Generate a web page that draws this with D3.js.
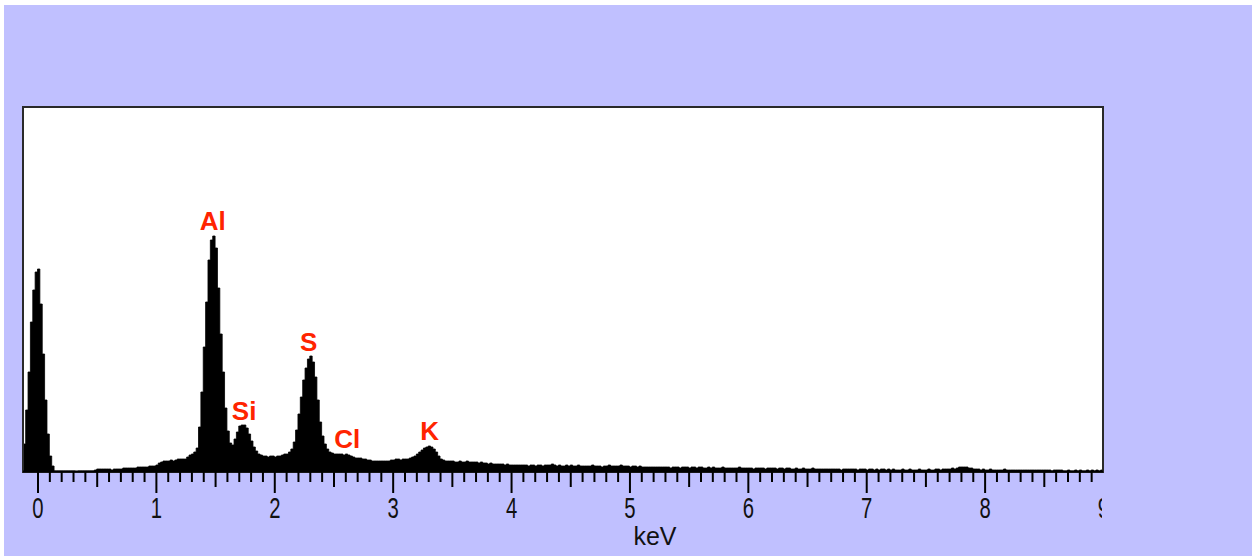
<!DOCTYPE html>
<html>
<head>
<meta charset="utf-8">
<script src="https://cdn.jsdelivr.net/npm/d3@7"></script>
<style>
  html, body { margin: 0; padding: 0; background: #ffffff; }
  svg { display: block; }
</style>
</head>
<body>
<svg id="chart" width="1252" height="556"></svg>
<script>
// ---- DATA ----
// Spectrum channels: 0.02 keV wide, first channel starts at -0.12 keV
const channelStart = -0.12;
const channelWidth = 0.02;
const counts = [
  28,62,100,150,182,200,203,168,118,72,
  38,16,6,1,1,1,1,1,1,1,
  1,1,0,1,1,1,1,1,1,1,
  2,3,3,3,3,3,3,2,3,3,
  3,3,4,4,4,4,4,4,5,5,
  5,5,5,6,6,6,7,9,10,11,
  11,11,12,11,12,13,13,13,13,15,
  17,18,20,24,45,80,125,170,212,232,
  236,224,184,138,100,64,41,29,27,33,
  40,46,47,47,44,38,31,25,21,18,
  17,16,16,15,16,16,15,16,16,17,
  18,18,20,23,30,42,58,75,92,104,
  113,116,110,95,72,50,36,28,23,20,
  19,18,18,18,18,17,18,17,16,15,
  14,14,14,13,13,12,12,11,11,11,
  11,11,11,11,11,12,12,13,13,12,
  13,13,13,14,15,16,18,20,22,24,
  25,26,25,23,20,16,13,12,11,11,
  11,11,10,10,11,10,10,11,10,10,
  10,10,9,10,9,9,8,9,8,8,
  8,8,8,7,8,7,7,7,7,7,
  7,7,7,6,7,7,6,7,7,6,
  7,7,7,8,7,6,7,6,6,7,
  6,7,6,6,7,6,6,6,6,6,
  7,6,6,6,5,6,6,7,6,6,
  6,6,7,6,6,6,5,6,6,5,
  6,5,5,5,5,5,5,5,5,5,
  5,5,5,4,5,5,5,4,5,5,
  5,4,5,5,4,5,5,4,4,5,
  4,5,4,4,4,5,4,4,4,4,
  4,4,5,4,4,4,4,4,3,4,
  4,4,4,3,4,4,4,4,3,4,
  4,3,4,4,3,3,4,3,3,4,
  3,3,3,4,3,3,3,3,3,3,
  3,3,3,3,3,2,3,3,3,3,
  3,3,2,3,3,3,2,3,3,2,
  3,2,3,3,2,3,2,3,2,2,
  2,3,2,2,3,2,2,2,3,2,
  2,2,3,2,2,3,3,2,3,3,
  3,3,4,3,4,5,5,5,5,4,
  4,3,3,3,2,3,2,2,3,2,
  2,2,2,2,3,2,2,2,2,2,
  2,2,2,2,2,2,2,2,2,2,
  2,2,2,2,1,2,2,2,2,1,
  1,2,1,1,2,1,2,1,1,2,
  1,2,1,2,1,2
];

// Element peak labels
const elementNames = ["Al", "Si", "S", "Cl", "K"];
const elementEnergies = [1.48, 1.745, 2.29, 2.617, 3.312];
const elementLabelCounts = [242, 52, 121, 24, 32];

// Axis ticks
const majorTicks = [0, 1, 2, 3, 4, 5, 6, 7, 8, 9];
const halfTicks = [0.5, 1.5, 2.5, 3.5, 4.5, 5.5, 6.5, 7.5, 8.5];
const minorTicks = [0.1,0.2,0.3,0.4,0.6,0.7,0.8,0.9,
  1.1,1.2,1.3,1.4,1.6,1.7,1.8,1.9,2.1,2.2,2.3,2.4,2.6,2.7,2.8,2.9,
  3.1,3.2,3.3,3.4,3.6,3.7,3.8,3.9,4.1,4.2,4.3,4.4,4.6,4.7,4.8,4.9,
  5.1,5.2,5.3,5.4,5.6,5.7,5.8,5.9,6.1,6.2,6.3,6.4,6.6,6.7,6.8,6.9,
  7.1,7.2,7.3,7.4,7.6,7.7,7.8,7.9,8.1,8.2,8.3,8.4,8.6,8.7,8.8,8.9];
const xTitle = "keV";

// ---- LAYOUT ----
const svg = d3.select("#chart");
const W = 1252, H = 556;
const plot = { left: 23, top: 107, right: 1103, bottom: 472 };

svg.append("rect").attr("x", 0).attr("y", 0).attr("width", W).attr("height", H).attr("fill", "#ffffff");
svg.append("rect").attr("x", 4).attr("y", 5).attr("width", W - 4).attr("height", H - 5).attr("fill", "#c0c0ff");

const x = d3.scaleLinear().domain([-0.1225, 9.0]).range([plot.left, plot.right]);
const y = d3.scaleLinear().domain([0, 365]).range([plot.bottom, plot.top]);

const defs = svg.append("defs");
defs.append("clipPath").attr("id", "plotClip")
  .append("rect").attr("x", plot.left).attr("y", plot.top)
  .attr("width", plot.right - plot.left).attr("height", plot.bottom - plot.top);
defs.append("clipPath").attr("id", "labelClip")
  .append("rect").attr("x", 0).attr("y", 0).attr("width", 1102).attr("height", H);

// plot background
svg.append("rect")
  .attr("x", plot.left).attr("y", plot.top)
  .attr("width", plot.right - plot.left).attr("height", plot.bottom - plot.top)
  .attr("fill", "#ffffff");

// spectrum
const pts = counts.map((c, i) => ({ e: channelStart + i * channelWidth, c: c }));
pts.push({ e: channelStart + counts.length * channelWidth, c: counts[counts.length - 1] });
const area = d3.area()
  .x(d => x(d.e))
  .y0(y(0))
  .y1(d => y(d.c))
  .curve(d3.curveStepAfter);
svg.append("path")
  .datum(pts)
  .attr("clip-path", "url(#plotClip)")
  .attr("d", area)
  .attr("fill", "#000000")
  .attr("stroke", "#000000")
  .attr("stroke-width", 0.8);

// frame
svg.append("rect")
  .attr("x", plot.left).attr("y", plot.top)
  .attr("width", plot.right - plot.left).attr("height", plot.bottom - plot.top)
  .attr("fill", "none").attr("stroke", "#2a2a2a").attr("stroke-width", 2);
svg.append("line")
  .attr("x1", plot.left).attr("x2", plot.right)
  .attr("y1", plot.bottom - 0.5).attr("y2", plot.bottom - 0.5)
  .attr("stroke", "#000").attr("stroke-width", 2);

// axes
function tickAxis(values, size, labels) {
  const ax = d3.axisBottom(x).tickValues(values).tickSize(size).tickSizeOuter(0)
    .tickFormat(labels ? d3.format("d") : () => "");
  const g = svg.append("g")
    .attr("transform", `translate(0,${plot.bottom})`)
    .call(ax);
  g.select(".domain").remove();
  g.selectAll(".tick line").attr("stroke", "#000").attr("stroke-width", 2);
  return g;
}
tickAxis(minorTicks, 10, false);
tickAxis(halfTicks, 15, false);
const gMajor = tickAxis(majorTicks, 21, true);
gMajor.attr("clip-path", "url(#labelClip)");
gMajor.selectAll(".tick text")
  .attr("y", 46).attr("dy", null)
  .attr("transform", "scale(0.7,1)")
  .attr("fill", "#111")
  .style("font-family", "'Liberation Sans', Arial, sans-serif")
  .style("font-size", "29px");

// x title
svg.append("text")
  .attr("x", 655).attr("y", 545)
  .attr("text-anchor", "middle")
  .attr("fill", "#111")
  .style("font-family", "'Liberation Sans', Arial, sans-serif")
  .style("font-size", "25px")
  .text(xTitle);

// element labels
svg.append("g").selectAll("text")
  .data(elementNames)
  .join("text")
  .attr("x", (d, i) => x(elementEnergies[i]))
  .attr("y", (d, i) => y(elementLabelCounts[i]))
  .attr("text-anchor", "middle")
  .attr("fill", "#ff2400")
  .style("font-family", "'Liberation Sans', Arial, sans-serif")
  .style("font-weight", "bold")
  .style("font-size", "26px")
  .text(d => d);
</script>
</body>
</html>
